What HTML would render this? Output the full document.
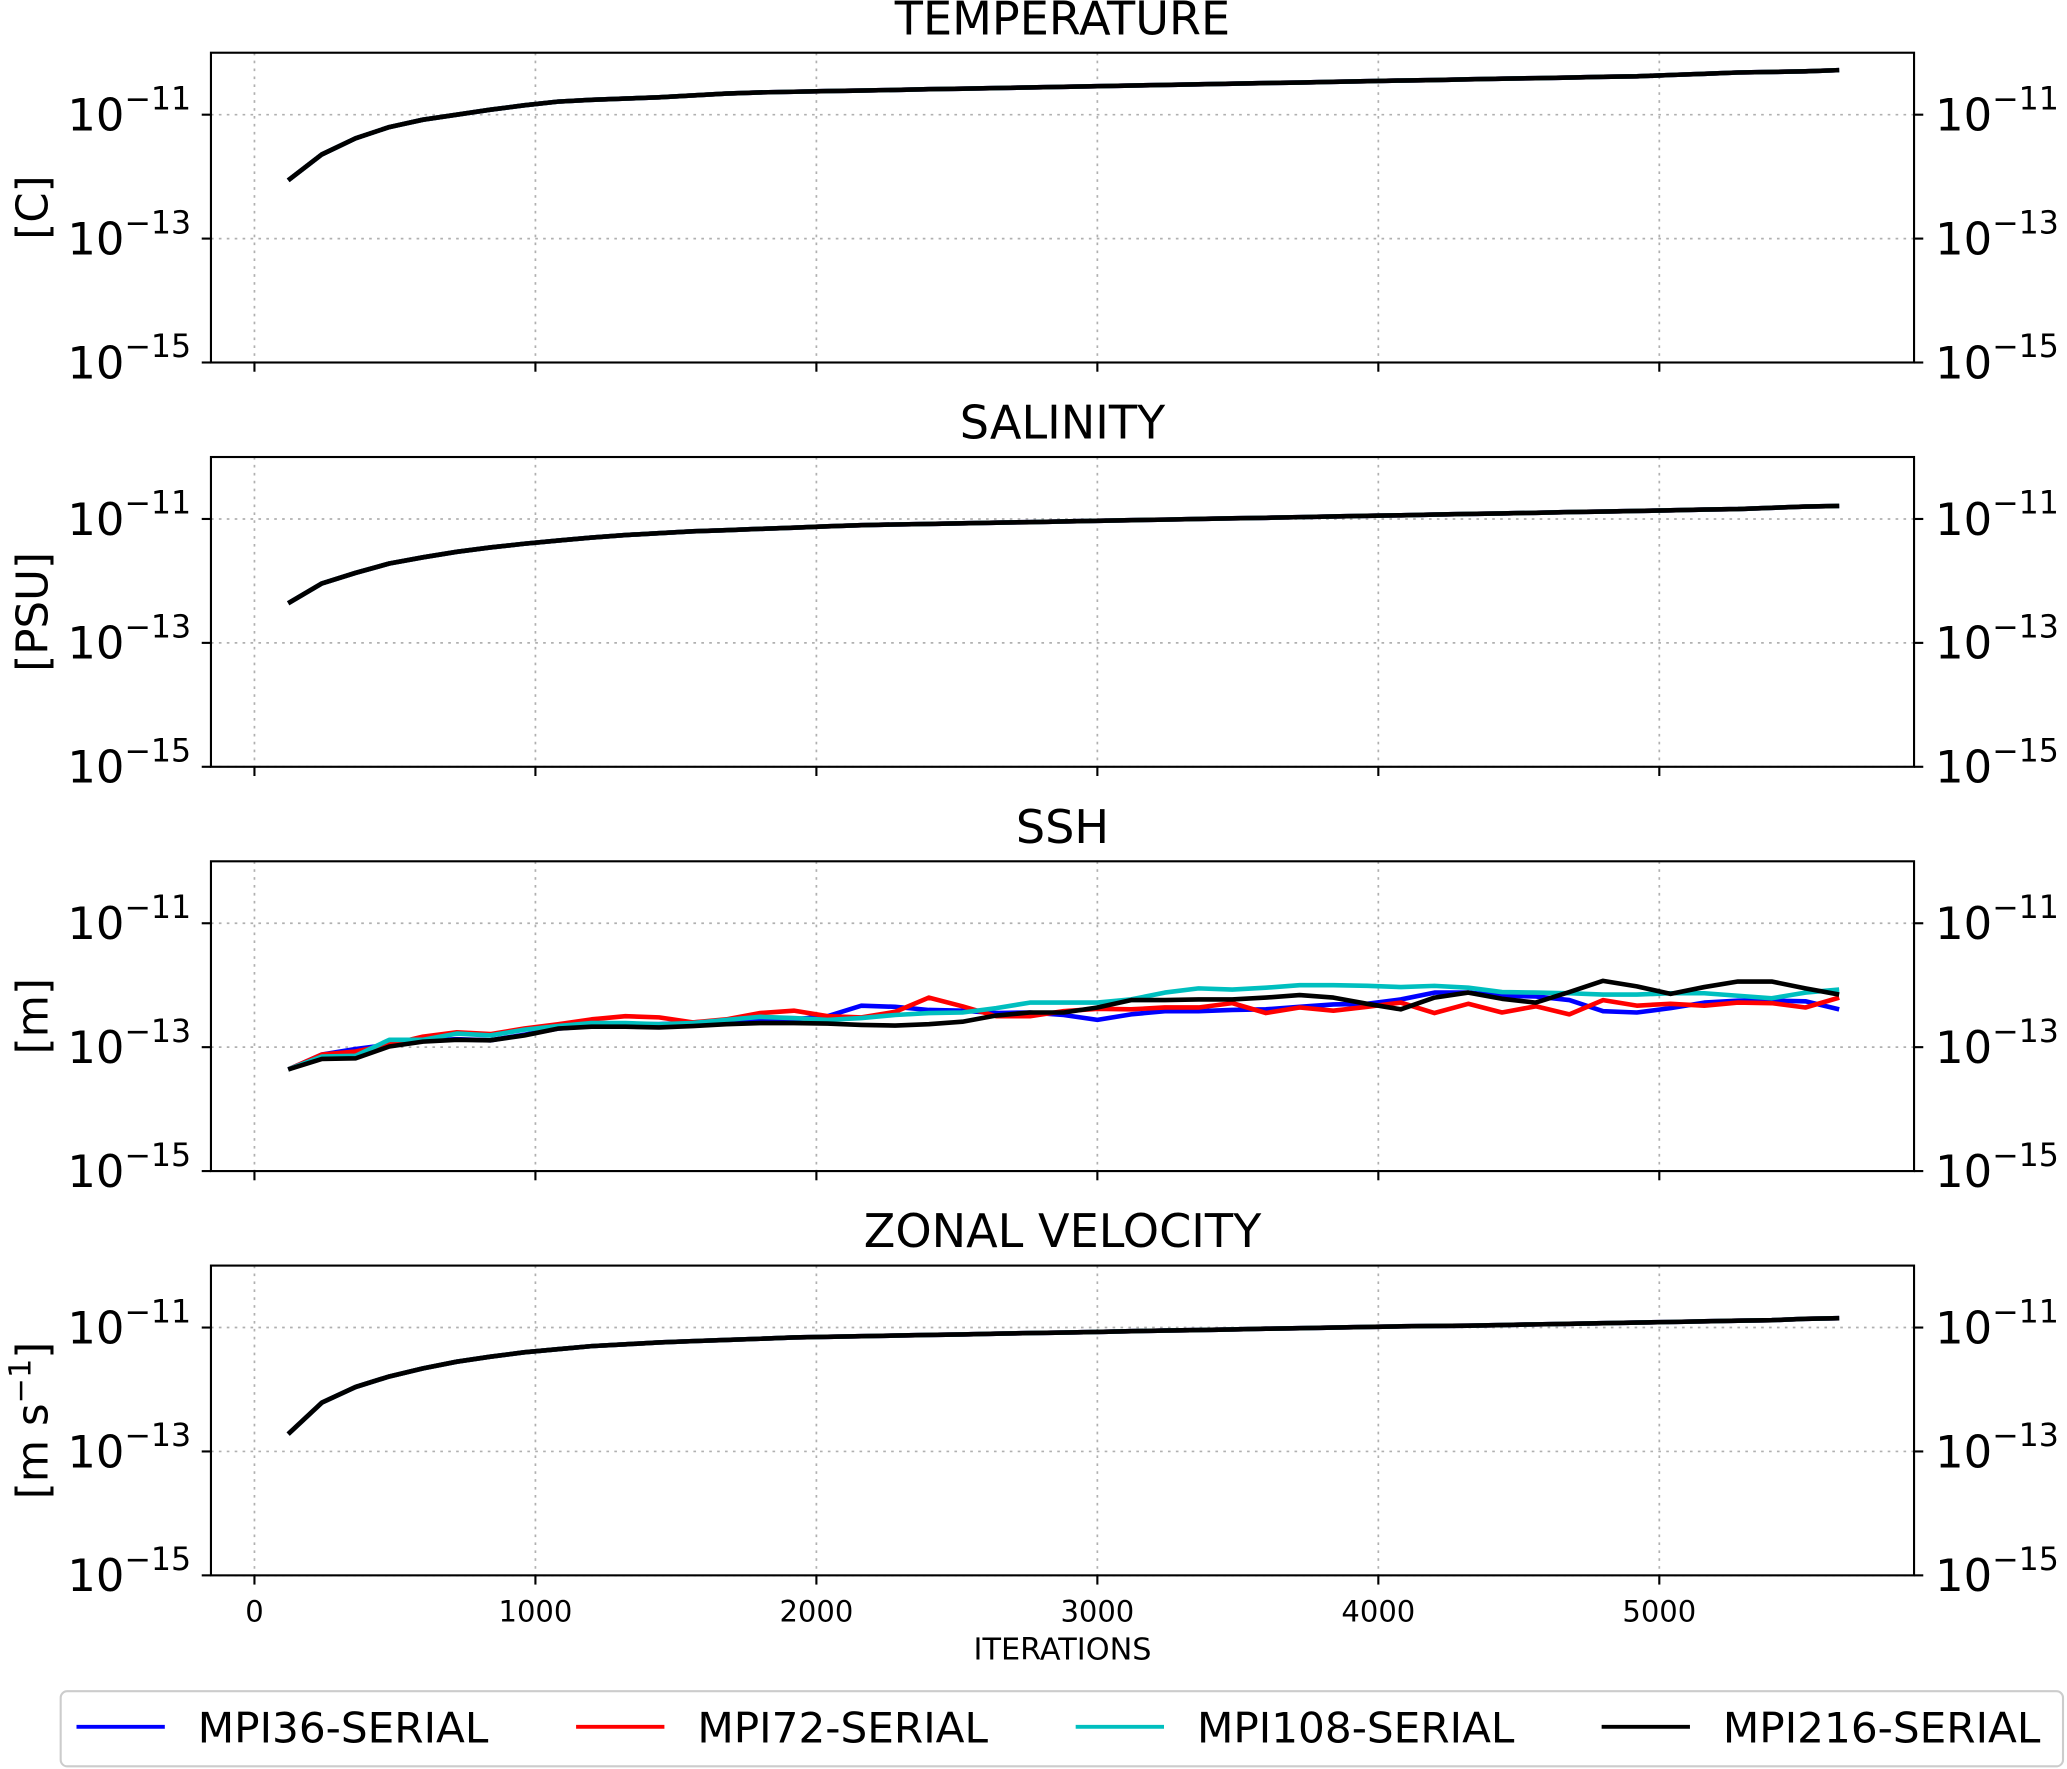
<!DOCTYPE html>
<html><head><meta charset="utf-8">
<style>
html,body{margin:0;padding:0;background:#fff;}
svg{display:block;font-family:"DejaVu Sans","Liberation Sans",sans-serif;}
</style></head>
<body>
<svg id="chart" width="2067" height="1769" viewBox="0 0 1568 1342" xmlns="http://www.w3.org/2000/svg"></svg>
<script>
const iterations = [120,240,360,480,600,720,840,960,1080,1200,1320,1440,1560,1680,1800,1920,2040,2160,2280,2400,2520,2640,2760,2880,3000,3120,3240,3360,3480,3600,3720,3840,3960,4080,4200,4320,4440,4560,4680,4800,4920,5040,5160,5280,5400,5520,5640];
const xTicks = [0,1000,2000,3000,4000,5000];
const yTickExps = [-11,-13,-15];
const seriesNames = ["MPI36-SERIAL","MPI72-SERIAL","MPI108-SERIAL","MPI216-SERIAL"];
const seriesColors = ["#0000ff","#ff0000","#00bfbf","#000000"];
const panelTitles = ["TEMPERATURE","SALINITY","SSH","ZONAL VELOCITY"];
const panelUnits = ["[C]","[PSU]","[m]","[m s⁻¹]"];
// log10 values
const tempLog = [-12.06,-11.64,-11.38,-11.2,-11.08,-11.0,-10.92,-10.85,-10.79,-10.76,-10.74,-10.72,-10.69,-10.66,-10.64,-10.63,-10.62,-10.61,-10.6,-10.59,-10.58,-10.57,-10.56,-10.55,-10.54,-10.53,-10.52,-10.51,-10.5,-10.49,-10.48,-10.47,-10.46,-10.45,-10.44,-10.43,-10.42,-10.41,-10.4,-10.39,-10.38,-10.36,-10.34,-10.32,-10.31,-10.3,-10.28];
const salLog = [-12.36,-12.04,-11.87,-11.72,-11.62,-11.53,-11.46,-11.4,-11.35,-11.3,-11.26,-11.23,-11.2,-11.18,-11.16,-11.14,-11.12,-11.1,-11.09,-11.08,-11.07,-11.06,-11.05,-11.04,-11.03,-11.02,-11.01,-11.0,-10.99,-10.98,-10.97,-10.96,-10.95,-10.94,-10.93,-10.92,-10.91,-10.9,-10.89,-10.88,-10.87,-10.86,-10.85,-10.84,-10.82,-10.8,-10.79];
const zonalLog = [-12.72,-12.21,-11.96,-11.79,-11.66,-11.55,-11.47,-11.4,-11.35,-11.3,-11.27,-11.24,-11.22,-11.2,-11.18,-11.16,-11.15,-11.14,-11.13,-11.12,-11.11,-11.1,-11.09,-11.08,-11.07,-11.06,-11.05,-11.04,-11.03,-11.02,-11.01,-11.0,-10.99,-10.98,-10.975,-10.97,-10.96,-10.95,-10.94,-10.93,-10.92,-10.91,-10.9,-10.89,-10.88,-10.86,-10.85];
const sshBlueLog = [-13.36,-13.12,-13.03,-12.96,-12.90,-12.87,-12.89,-12.80,-12.70,-12.66,-12.63,-12.63,-12.60,-12.57,-12.55,-12.55,-12.50,-12.33,-12.35,-12.40,-12.41,-12.45,-12.44,-12.48,-12.56,-12.47,-12.42,-12.42,-12.40,-12.39,-12.35,-12.31,-12.30,-12.23,-12.12,-12.12,-12.17,-12.18,-12.24,-12.42,-12.44,-12.37,-12.28,-12.25,-12.25,-12.26,-12.39];
const sshRedLog = [-13.36,-13.12,-13.07,-12.96,-12.83,-12.76,-12.79,-12.70,-12.63,-12.55,-12.50,-12.52,-12.60,-12.55,-12.45,-12.41,-12.50,-12.52,-12.43,-12.20,-12.34,-12.50,-12.50,-12.42,-12.38,-12.39,-12.36,-12.36,-12.29,-12.45,-12.36,-12.41,-12.35,-12.28,-12.45,-12.30,-12.44,-12.34,-12.47,-12.24,-12.33,-12.30,-12.33,-12.28,-12.29,-12.36,-12.20];
const sshCyanLog = [-13.36,-13.15,-13.14,-12.88,-12.88,-12.78,-12.81,-12.72,-12.66,-12.61,-12.61,-12.63,-12.61,-12.56,-12.51,-12.53,-12.56,-12.53,-12.48,-12.45,-12.44,-12.37,-12.28,-12.28,-12.28,-12.23,-12.12,-12.05,-12.07,-12.04,-12.0,-12.0,-12.01,-12.03,-12.01,-12.04,-12.11,-12.12,-12.13,-12.15,-12.15,-12.13,-12.13,-12.17,-12.21,-12.12,-12.07];
const sshBlackLog = [-13.36,-13.19,-13.18,-12.99,-12.91,-12.88,-12.89,-12.81,-12.70,-12.67,-12.67,-12.68,-12.66,-12.63,-12.61,-12.61,-12.62,-12.64,-12.65,-12.63,-12.59,-12.49,-12.44,-12.44,-12.36,-12.24,-12.24,-12.23,-12.23,-12.20,-12.16,-12.20,-12.30,-12.39,-12.20,-12.12,-12.22,-12.28,-12.11,-11.93,-12.02,-12.14,-12.03,-11.94,-11.94,-12.05,-12.15];

const panelData = [
  [tempLog,tempLog,tempLog,tempLog],
  [salLog,salLog,salLog,salLog],
  [sshBlueLog,sshRedLog,sshCyanLog,sshBlackLog],
  [zonalLog,zonalLog,zonalLog,zonalLog]
];

const NS="http://www.w3.org/2000/svg";
const svg=document.getElementById('chart');
function mk(tag,attrs,parent){const e=document.createElementNS(NS,tag);for(const k in attrs)e.setAttribute(k,attrs[k]);(parent||svg).appendChild(e);return e;}

const X0=160, X1=1452;
function xScale(v){return 193+v*0.21315;}
const PANEL_TOP=40, PANEL_H=235, PANEL_STEP=306.7;
function yScale(p,logv){const top=PANEL_TOP+p*PANEL_STEP;return top+( -10 - logv)*(PANEL_H/5);}

for(let p=0;p<4;p++){
  const top=PANEL_TOP+p*PANEL_STEP, bot=top+PANEL_H;
  const g=mk('g',{});
  
  
  xTicks.forEach(t=>{
    const gl=mk('line',{x1:xScale(t),x2:xScale(t),y1:top,y2:bot,stroke:'#b0b0b0','stroke-width':1.3,'stroke-dasharray':'2,4'},g);
    
    
  });
  yTickExps.forEach(e=>{
    const y=yScale(p,e);
    const gl=mk('line',{x1:X0,x2:X1,y1:y,y2:y,stroke:'#b0b0b0','stroke-width':1.3,'stroke-dasharray':'2,4'},g);
    
    
  });
  panelData[p].forEach((vals,si)=>{
    const d=vals.map((v,i)=>(i?'L':'M')+xScale(iterations[i]).toFixed(1)+','+yScale(p,v).toFixed(1)).join(' ');
    const path=mk('path',{d:d,fill:'none',stroke:seriesColors[si],'stroke-width':3.5,'stroke-linejoin':'round'},g);
    
    
  });
  const fr=mk('rect',{x:X0,y:top,width:X1-X0,height:PANEL_H,fill:'none',stroke:'#000','stroke-width':1.6},g);
  
  
  xTicks.forEach(t=>{
    mk('line',{x1:xScale(t),x2:xScale(t),y1:bot,y2:bot+7,stroke:'#000','stroke-width':1.6},g);
    if(p===3){
      const tl=mk('text',{x:xScale(t),y:bot+35,'text-anchor':'middle','font-size':22,fill:'#000'},g);
      tl.textContent=t;
      
      
    }
  });
  yTickExps.forEach(e=>{
    const y=yScale(p,e);
    mk('line',{x1:X0-7,x2:X0,y1:y,y2:y,stroke:'#000','stroke-width':1.6},g);
    mk('line',{x1:X1,x2:X1+7,y1:y,y2:y,stroke:'#000','stroke-width':1.6},g);
    const lt=mk('text',{x:145,y:y+12,'text-anchor':'end','font-size':34,fill:'#000'},g);
    
    
    lt.innerHTML='10<tspan dy="-16" font-size="24">\u2212'+(-e)+'</tspan>';
    const rt=mk('text',{x:1468,y:y+12,'text-anchor':'start','font-size':34,fill:'#000'},g);
    
    
    rt.innerHTML='10<tspan dy="-16" font-size="24">\u2212'+(-e)+'</tspan>';
  });
  const tt=mk('text',{x:806,y:top-14,'text-anchor':'middle','font-size':35,fill:'#000'},g);
  tt.textContent=panelTitles[p];
  
  
  const cy=top+PANEL_H/2;
  const yl=mk('text',{x:0,y:0,'text-anchor':'middle','font-size':33,fill:'#000',transform:'translate(36,'+cy+') rotate(-90)'},g);
  if(p===3){yl.innerHTML='[m s<tspan dy="-13" font-size="23">\u22121</tspan><tspan dy="13">]</tspan>';}
  else yl.textContent=panelUnits[p];
  
  
}
const xt=mk('text',{x:806,y:1259,'text-anchor':'middle','font-size':23,fill:'#000'});
xt.textContent='ITERATIONS';


const lg=mk('g',{});


mk('rect',{x:46,y:1283,width:1519,height:57,rx:5,fill:'#fff',stroke:'#cccccc','stroke-width':1.6},lg);
const legX=[58,437,816,1215];
seriesNames.forEach((n,i)=>{
  const e=mk('g',{},lg);
  
  
  mk('line',{x1:legX[i],x2:legX[i]+67,y1:1310,y2:1310,stroke:seriesColors[i],'stroke-width':3},e);
  const t=mk('text',{x:legX[i]+92,y:1322,'font-size':32,fill:'#000'},e);
  t.textContent=n;
});
</script>
</body></html>
